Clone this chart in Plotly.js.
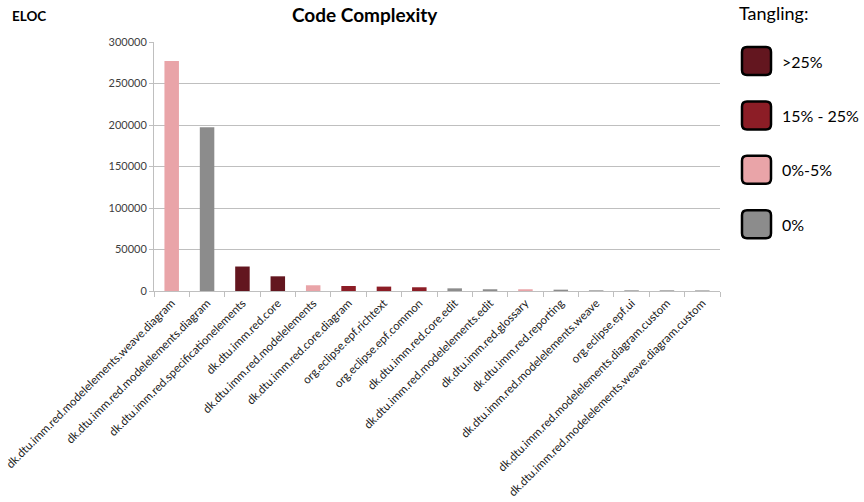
<!DOCTYPE html>
<html>
<head>
<meta charset="utf-8">
<script src="https://cdn.plot.ly/plotly-3.0.1.min.js"></script>
<style>
  html, body { margin: 0; padding: 0; background: #ffffff; }
  #chart { width: 864px; height: 502px; }
</style>
</head>
<body>
<div id="chart"></div>
<script>
// Packages (effective lines of code), sorted by size
const packages = [
  "dk.dtu.imm.red.modelelements.weave.diagram",
  "dk.dtu.imm.red.modelelements.diagram",
  "dk.dtu.imm.red.specificationelements",
  "dk.dtu.imm.red.core",
  "dk.dtu.imm.red.modelelements",
  "dk.dtu.imm.red.core.diagram",
  "org.eclipse.epf.richtext",
  "org.eclipse.epf.common",
  "dk.dtu.imm.red.core.edit",
  "dk.dtu.imm.red.modelelements.edit",
  "dk.dtu.imm.red.glossary",
  "dk.dtu.imm.red.reporting",
  "dk.dtu.imm.red.modelelements.weave",
  "org.eclipse.epf.ui",
  "dk.dtu.imm.red.modelelements.diagram.custom",
  "dk.dtu.imm.red.modelelements.weave.diagram.custom"
];
const eloc = [277000, 197300, 29500, 17700, 6900, 6000, 5300, 4500,
              3200, 2100, 2100, 1600, 800, 800, 800, 700];
// Tangling class for each package
const tangling = [">5", "0", ">25", ">25", ">5", "15-25", "15-25", "15-25",
                  "0", "0", ">5", "0", "0", "0", "0", "0"];

// Legend entries
const legendKeys   = [">25", "15-25", ">5", "0"];
const legendLabels = [">25%", "15% - 25%", "0%-5%", "0%"];
const yTicks = [0, 50000, 100000, 150000, 200000, 250000, 300000];

const palette = {
  ">25":   "#63161F",
  "15-25": "#8C1D26",
  ">5":    "#E9A4A8",
  "0":     "#8C8C8C"
};

const W = 864, H = 502;
const M = { l: 154, r: 144, t: 42, b: 211 };
const PW = W - M.l - M.r, PH = H - M.t - M.b;
const px = x => (x - M.l) / PW;
const py = y => 1 - (y - M.t) / PH;

const FONT = "Lato, 'Open Sans', sans-serif";

const trace = {
  type: "bar",
  x: packages,
  y: eloc,
  marker: { color: tangling.map(k => palette[k]), line: { width: 0 } },
  hoverinfo: "skip"
};

function roundRect(x0, y0, x1, y1, r) {
  // pixel coordinates -> paper path
  const X = v => px(v), Y = v => py(v);
  const rx = r / PW, ry = r / PH;
  const a = X(x0), b = X(x1), top = Y(y0), bot = Y(y1);
  return `M ${a + rx} ${top} L ${b - rx} ${top} Q ${b} ${top} ${b} ${top - ry} ` +
         `L ${b} ${bot + ry} Q ${b} ${bot} ${b - rx} ${bot} ` +
         `L ${a + rx} ${bot} Q ${a} ${bot} ${a} ${bot + ry} ` +
         `L ${a} ${top - ry} Q ${a} ${top} ${a + rx} ${top} Z`;
}

const shapes = [];
const annotations = [
  { text: "<b>Code Complexity</b>", x: px(365), y: py(15), xref: "paper", yref: "paper",
    xanchor: "center", yanchor: "middle", showarrow: false,
    font: { family: FONT, size: 19, color: "#000000" } },
  { text: "<b>ELOC</b>", x: px(10), y: py(16), xref: "paper", yref: "paper",
    xanchor: "left", yanchor: "middle", showarrow: false,
    font: { family: FONT, size: 13.5, color: "#000000" } },
  { text: "Tangling:", x: px(737), y: py(13), xref: "paper", yref: "paper",
    xanchor: "left", yanchor: "middle", showarrow: false,
    font: { family: FONT, size: 18, color: "#000000" } }
];

legendKeys.forEach((k, i) => {
  const cy = 61 + i * 54.4;
  shapes.push({
    type: "path", xref: "paper", yref: "paper",
    path: roundRect(742, cy - 14, 771, cy + 14, 5),
    fillcolor: palette[k], line: { color: "#000000", width: 2.5 }
  });
  annotations.push({
    text: legendLabels[i], x: px(780), y: py(cy), xref: "paper", yref: "paper",
    xanchor: "left", yanchor: "middle", showarrow: false,
    font: { family: FONT, size: 16, color: "#000000" }
  });
});

const layout = {
  width: W, height: H,
  margin: M,
  paper_bgcolor: "#ffffff",
  plot_bgcolor: "#ffffff",
  showlegend: false,
  bargap: 0.59,
  font: { family: FONT, size: 11, color: "#404040" },
  xaxis: {
    type: "category",
    tickangle: -45,
    ticks: "outside", tickson: "boundaries", ticklen: 5, tickcolor: "#BFBFBF",
    showline: true, linecolor: "#BFBFBF", linewidth: 1,
    showgrid: false, automargin: false,
    tickfont: { family: FONT, size: 11.5, color: "#1a1a1a" }
  },
  yaxis: {
    range: [0, 300000],
    tickvals: yTicks,
    ticktext: yTicks.map(String),
    ticks: "outside", ticklen: 4, tickcolor: "#BFBFBF",
    showline: true, linecolor: "#BFBFBF", linewidth: 1,
    showgrid: true, gridcolor: "#BFBFBF", gridwidth: 1,
    zeroline: false, automargin: false,
    tickfont: { family: FONT, size: 11, color: "#404040" }
  },
  shapes: shapes,
  annotations: annotations
};

Plotly.newPlot("chart", [trace], layout, { staticPlot: true, displayModeBar: false });
</script>
</body>
</html>
